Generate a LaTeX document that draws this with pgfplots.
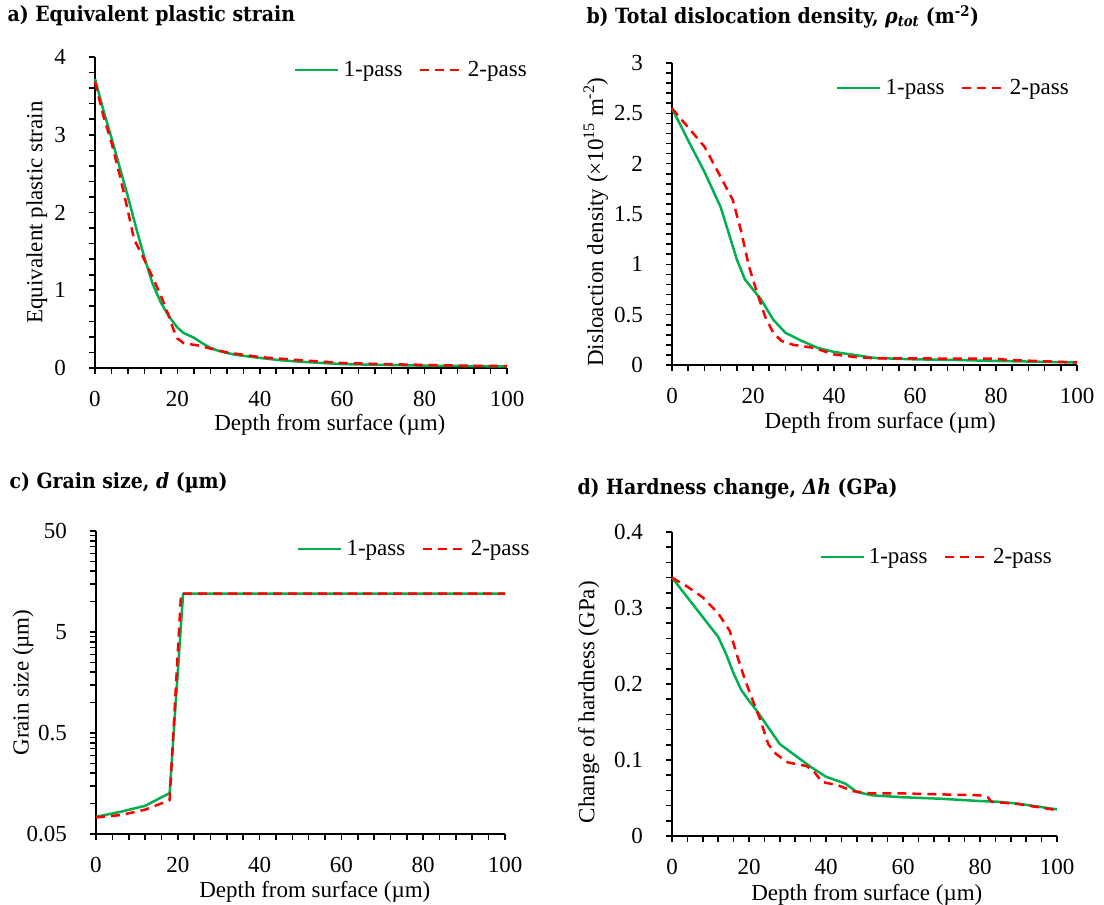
\documentclass[border=0pt]{standalone}
\usepackage{fontspec}
\setmainfont{Liberation Serif}
\newfontfamily\ttlfont{DejaVu Serif Condensed}
\usepackage{pgfplots}
\pgfplotsset{compat=1.18}
\definecolor{xlgreen}{RGB}{0,176,80}
\definecolor{xlred}{RGB}{255,0,0}
\pgfplotsset{
  myaxis/.style={
    scale only axis,
    axis x line*=bottom,
    axis y line*=left,
    axis line style={-, line width=2pt, black},
    xmin=0, xmax=100,
    xtick={0,20,...,100},
    minor x tick num=4,
    tick align=outside,
    tickwidth=6pt, subtickwidth=5pt,
    major tick style={draw=black, line width=1.6pt},
    minor tick style={draw=black, line width=1.6pt},
    /pgf/number format/assume math mode=true,
    tick label style={font=\fontsize{23}{25}\selectfont, inner sep=1pt},
    label style={font=\fontsize{23}{25}\selectfont, inner sep=1pt},
    xticklabel style={yshift=-16pt},
    yticklabel style={xshift=-22pt},
    legend columns=2,
    legend style={draw=none, fill=none, font=\fontsize{23}{25}\selectfont,
      inner sep=0pt, anchor=west,
      nodes={inner xsep=4pt},
      /tikz/every even column/.append style={column sep=12pt}},
    legend image code/.code={\draw[##1] (0pt,0pt) -- (43pt,0pt);},
    xlabel={Depth from surface (µm)},
    clip=false,
  },
  gline/.style={color=xlgreen, line width=2.5pt, line join=round},
  rline/.style={color=xlred, line width=2.5pt, dash pattern=on 9pt off 6pt, line join=round},
}
\tikzset{tk/.style={draw=black, line width=1.6pt}}
\begin{document}
\begin{tikzpicture}
\useasboundingbox (0pt,0pt) rectangle (1104pt,-905pt);
\tikzset{ttl/.style={anchor=west, font=\fontsize{21}{23}\ttlfont\bfseries}}
\node[ttl] at (4pt,-16pt) {a) Equivalent plastic strain};
\node[ttl] at (583pt,-17pt) {b) Total dislocation density, \textit{ρ\textsubscript{tot}} (m\textsuperscript{-2})};
\node[ttl] at (6pt,-483pt) {c) Grain size, \textit{d} (µm)};
\node[ttl] at (574pt,-489pt) {d) Hardness change, \textit{Δh} (GPa)};

% panel a
\begin{axis}[myaxis, at={(95pt,-368pt)}, anchor=south west, width=412pt, height=311pt,
  ymin=0, ymax=4, ytick={0,1,2,3,4}, minor y tick num=4,
  ylabel={Equivalent plastic strain},
  ylabel style={at={(axis description cs:-0.141,0.5)}, anchor=center},
  xlabel style={at={(axis description cs:0.57,-0.182)}, anchor=center},
  legend style={at={(0.483,0.958)}}]
\pgfplotsinvokeforeach{0,4,...,100}{\draw[tk] (axis cs:#1,0) -- ++(0pt,-6pt);}
\pgfplotsinvokeforeach{0,0.2,...,4.01}{\draw[tk] (axis cs:0,#1) -- ++(-6pt,0pt);}
\addplot[gline] coordinates {(0,3.72) (2,3.32) (4,2.96) (6,2.58) (8,2.2) (10,1.8) (12,1.42) (14,1.08) (16,0.84) (18,0.66) (20,0.52) (21.5,0.45) (24,0.39) (26,0.32) (28,0.26) (30,0.22) (34,0.17) (40,0.13) (45,0.1) (50,0.08) (60,0.05) (70,0.04) (80,0.03) (90,0.025) (100,0.02)};
\addlegendentry{1-pass}
\addplot[rline] coordinates {(0,3.68) (2,3.25) (4,2.9) (6,2.48) (8,2.02) (9.5,1.65) (11,1.5) (13,1.28) (16,0.93) (18,0.66) (19,0.5) (20,0.38) (21.5,0.32) (25,0.29) (28,0.25) (32,0.2) (40,0.14) (50,0.1) (60,0.065) (70,0.05) (80,0.04) (90,0.03) (100,0.025)};
\addlegendentry{2-pass}
\end{axis}

% panel b
\begin{axis}[myaxis, at={(672pt,-365pt)}, anchor=south west, width=405pt, height=302pt,
  ymin=0, ymax=3, ytick={0,0.5,...,3}, yticklabels={0,0.5,1,1.5,2,2.5,3}, minor y tick num=4,
  ylabel={Disloaction density (×10\textsuperscript{15} m\textsuperscript{-2})},
  ylabel style={at={(axis description cs:-0.188,0.473)}, anchor=center},
  xlabel style={at={(axis description cs:0.514,-0.192)}, anchor=center},
  legend style={at={(0.405,0.917)}}]
\pgfplotsinvokeforeach{0,4,...,100}{\draw[tk] (axis cs:#1,0) -- ++(0pt,-6pt);}
\pgfplotsinvokeforeach{0,0.1,...,3.01}{\draw[tk] (axis cs:0,#1) -- ++(-6pt,0pt);}
\addplot[gline] coordinates {(0,2.55) (4,2.23) (8,1.92) (12,1.57) (14,1.31) (16,1.05) (18,0.85) (20,0.75) (22,0.65) (25,0.45) (28,0.32) (32,0.24) (36,0.17) (40,0.13) (45,0.1) (50,0.07) (60,0.056) (70,0.05) (80,0.04) (90,0.033) (100,0.025)};
\addlegendentry{1-pass}
\addplot[rline] coordinates {(0,2.55) (4,2.36) (8,2.17) (12,1.87) (15,1.64) (17,1.34) (19,0.98) (21,0.72) (23,0.48) (25,0.32) (27,0.24) (30,0.2) (35,0.17) (40,0.105) (45,0.08) (50,0.066) (60,0.065) (70,0.064) (80,0.063) (83,0.05) (90,0.04) (100,0.025)};
\addlegendentry{2-pass}
\end{axis}

% panel c
\begin{axis}[myaxis, at={(96pt,-834pt)}, anchor=south west, width=409pt, height=303pt,
  ymode=log, ymin=0.05, ymax=50, ytick={0.05,0.5,5,50}, yticklabels={0.05,0.5,5,50},
  minor ytick={0.1,0.15,0.2,0.25,0.3,0.35,0.4,0.45,1,1.5,2,2.5,3,3.5,4,4.5,10,15,20,25,30,35,40,45},
  ylabel={Grain size (µm)},
  ylabel style={at={(axis description cs:-0.178,0.5)}, anchor=center},
  xlabel style={at={(axis description cs:0.535,-0.19)}, anchor=center},
  legend style={at={(0.491,0.941)}}]
\pgfplotsinvokeforeach{0,4,...,100}{\draw[tk] (axis cs:#1,0.05) -- ++(0pt,-6pt);}
\pgfplotsinvokeforeach{0.05,0.1,0.15,0.2,0.25,0.3,0.35,0.4,0.45,0.5,1,1.5,2,2.5,3,3.5,4,4.5,5,10,15,20,25,30,35,40,45,50}{\draw[tk] (axis cs:0,#1) -- ++(-6pt,0pt);}
\addplot[gline] coordinates {(0,0.074) (6,0.083) (12,0.095) (18,0.127) (21.3,12) (100,12)};
\addlegendentry{1-pass}
\addplot[rline] coordinates {(0,0.073) (6,0.077) (12,0.087) (18,0.108) (20.8,12) (100,12)};
\addlegendentry{2-pass}
\end{axis}

% panel d
\begin{axis}[myaxis, at={(672pt,-836pt)}, anchor=south west, width=385pt, height=304pt,
  ymin=0, ymax=0.4, ytick={0,0.1,...,0.4}, yticklabels={0,0.1,0.2,0.3,0.4}, minor y tick num=4,
  ylabel={Change of hardness (GPa)},
  ylabel style={at={(axis description cs:-0.216,0.44)}, anchor=center},
  xlabel style={at={(axis description cs:0.506,-0.192)}, anchor=center},
  legend style={at={(0.382,0.918)}}]
\pgfplotsinvokeforeach{0,4,...,100}{\draw[tk] (axis cs:#1,0) -- ++(0pt,-6pt);}
\pgfplotsinvokeforeach{0,0.02,...,0.401}{\draw[tk] (axis cs:0,#1) -- ++(-6pt,0pt);}
\addplot[gline] coordinates {(0,0.34) (4,0.314) (8,0.288) (12,0.262) (14,0.24) (16,0.214) (18,0.192) (20,0.178) (22,0.165) (25,0.143) (28,0.121) (32,0.106) (36,0.091) (40,0.078) (45,0.069) (48,0.058) (52,0.0535) (60,0.051) (70,0.049) (80,0.046) (85,0.045) (90,0.0425) (100,0.035)};
\addlegendentry{1-pass}
\addplot[rline] coordinates {(0,0.34) (4,0.328) (8,0.314) (12,0.293) (15,0.27) (17,0.236) (19,0.205) (21,0.178) (23,0.152) (25,0.121) (27,0.108) (30,0.097) (35,0.092) (37,0.084) (39,0.071) (43,0.067) (47,0.059) (52,0.056) (60,0.056) (80,0.0535) (82,0.051) (83,0.045) (90,0.042) (95,0.038) (100,0.034)};
\addlegendentry{2-pass}
\end{axis}
\end{tikzpicture}
\end{document}
